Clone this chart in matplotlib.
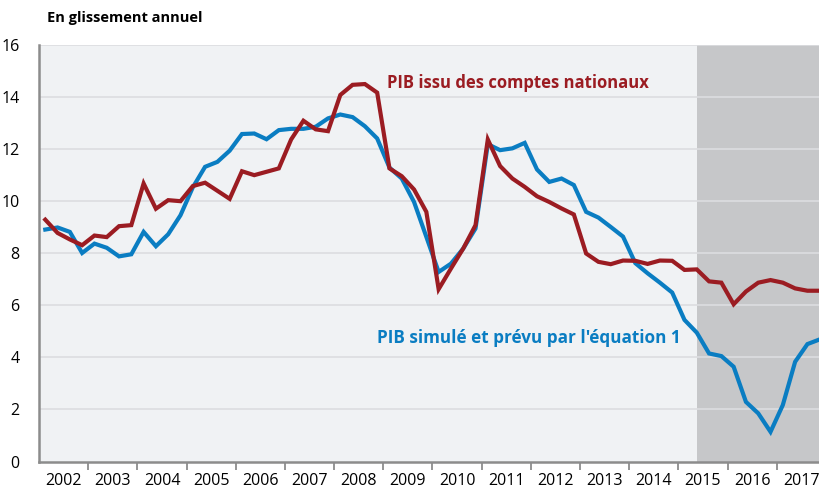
import numpy as np
import matplotlib
matplotlib.use("Agg")
from matplotlib import pyplot as plt

# quarterly data, 2002Q1 .. 2017Q4 (year-on-year growth, %)
years = list(range(2002, 2018))
pib_comptes = [
    9.29, 8.78, 8.53, 8.31, 8.68, 8.62, 9.04, 9.08,
    10.68, 9.71, 10.04, 10.00, 10.58, 10.71, 10.40, 10.09,
    11.15, 11.00, 11.13, 11.26, 12.37, 13.09, 12.76, 12.69,
    14.08, 14.47, 14.50, 14.17, 11.26, 10.96, 10.45, 9.59,
    6.62, 7.41, 8.18, 9.08, 12.37, 11.35, 10.87, 10.55,
    10.19, 9.97, 9.72, 9.49, 7.99, 7.67, 7.58, 7.72,
    7.71, 7.59, 7.72, 7.71, 7.36, 7.38, 6.92, 6.87,
    6.04, 6.53, 6.87, 6.97, 6.87, 6.65, 6.56, 6.56,
]
pib_simule = [
    8.91, 8.99, 8.82, 8.01, 8.37, 8.21, 7.88, 7.96,
    8.82, 8.27, 8.73, 9.46, 10.53, 11.32, 11.51, 11.94,
    12.58, 12.60, 12.38, 12.73, 12.78, 12.78, 12.86, 13.18,
    13.33, 13.23, 12.88, 12.41, 11.29, 10.87, 9.97, 8.63,
    7.28, 7.60, 8.18, 8.95, 12.19, 11.96, 12.03, 12.24,
    11.22, 10.74, 10.87, 10.62, 9.59, 9.37, 9.01, 8.64,
    7.62, 7.23, 6.87, 6.49, 5.44, 4.95, 4.15, 4.05,
    3.64, 2.29, 1.85, 1.14, 2.17, 3.83, 4.51, 4.69,
]
quarters = np.array([y + (q + 0.5) / 4 for y in years for q in range(4)])
prevision_debut = 2015.375

rouge = "#9b1c22"
bleu = "#0a7dc2"
gris = "#8c8c8c"

plt.rcParams["font.family"] = ["Open Sans", "DejaVu Sans"]

fig = plt.figure(figsize=(8.2, 4.91), dpi=100)
ax = fig.add_axes([39.13 / 820, 29.5 / 491, 781.8 / 820, 416.5 / 491])
ax.set_facecolor("#f0f2f4")

ax.axvspan(prevision_debut, 2018, color="#c6c7c9", zorder=0, lw=0)
for v in range(2, 17, 2):
    ax.axhline(v, color="#dcdde0", lw=1.2, zorder=1)

ax.plot(quarters, pib_simule, color=bleu, lw=3, zorder=3, solid_joinstyle="miter")
ax.plot(quarters, pib_comptes, color=rouge, lw=3, zorder=4, solid_joinstyle="miter")

ax.set_xlim(2002, 2017.9)
ax.set_ylim(0, 16)

# year boundaries as ticks, labels centered inside each year
ax.set_xticks(years[1:])
ax.set_xticklabels([])
ax.set_xticks([y + 0.5 for y in years], minor=True)
ax.set_xticklabels([str(y) for y in years], minor=True)
ax.tick_params(axis="x", which="major", length=6, width=1.3, color=gris)
ax.tick_params(axis="x", which="minor", length=0, pad=8, labelsize=11.5)
ax.set_yticks(range(0, 17, 2))
ax.tick_params(axis="y", length=0, pad=14, labelsize=11.5)

for s in ["top", "right"]:
    ax.spines[s].set_visible(False)
for s in ["left", "bottom"]:
    ax.spines[s].set_color(gris)
    ax.spines[s].set_linewidth(1.8)

ax.text(2009.07, 14.55, "PIB issu des comptes nationaux", color=rouge,
        fontsize=12, fontweight="bold", va="center", ha="left")
ax.text(2008.87, 4.75, "PIB simulé et prévu par l'équation 1", color=bleu,
        fontsize=12.3, fontweight="bold", va="center", ha="left")

fig.text(47 / 820, 1 - 18 / 491, "En glissement annuel", fontsize=10.5,
         fontweight="bold", va="center", ha="left")

fig.savefig("out.png", dpi=100)
